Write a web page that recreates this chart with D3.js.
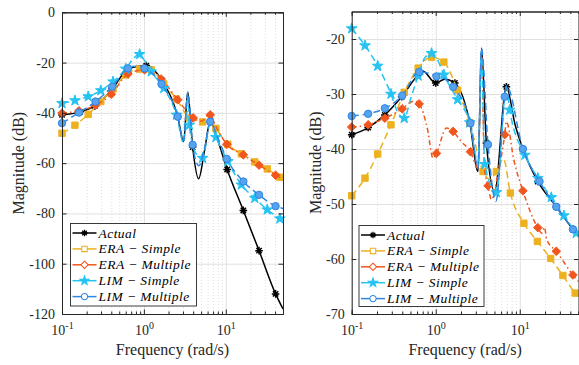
<!DOCTYPE html>
<html>
<head>
<meta charset="utf-8">
<script src="https://cdn.jsdelivr.net/npm/d3@7"></script>
<style>
  body { margin: 0; background: #fff; }
  svg { display: block; font-family: "Liberation Serif", "Times New Roman", serif; }
  svg text { font-family: "Liberation Serif", "Times New Roman", serif !important; }
</style>
</head>
<body>
<svg id="chart" width="579" height="365"></svg>
<script>
// ---- data (frequency in rad/s, magnitude in dB) ----
const seriesNames = ["Actual", "ERA \u2212 Simple", "ERA \u2212 Multiple", "LIM \u2212 Simple", "LIM \u2212 Multiple"];
const xTickValues = [0.1, 1, 10];
const xTickExponents = ["-1", "0", "1"];
const leftYTicks = [0, -20, -40, -60, -80, -100, -120];
const rightYTicks = [-20, -30, -40, -50, -60, -70];

// left panel
const lActF  = [0.1, 0.166, 0.252, 0.40, 0.64, 0.81, 1.07, 1.64, 2.59, 3.06, 3.43, 3.94, 4.66, 5.5, 6.46, 7.9, 10.4, 16.4, 25.5, 40.6, 50];
const lActDb = [-40.8, -39.6, -37.2, -31.1, -22.5, -21.6, -21.2, -26.9, -41.5, -51.4, -31.8, -53.6, -66.2, -55, -43.5, -50.5, -62.5, -78.8, -94.8, -112, -118];
const lActMk = [0, 1, 2, 3, 4, 6, 7, 8, 11, 14, 16, 17, 18, 19];

const lEraSF  = [0.1, 0.144, 0.209, 0.298, 0.42, 0.6, 0.887, 1.23, 1.75, 2.5, 3.59, 5.21, 6.6, 7.58, 10.6, 15.5, 22.6, 32.1, 45.8, 50];
const lEraSDb = [-48.1, -44.9, -40.6, -35.5, -30.5, -24.9, -22.6, -22.9, -28.5, -34.5, -42, -43.6, -43.8, -46.2, -52.5, -56.3, -59.5, -62.3, -65.6, -66.4];
const lEraSMk = [0, 1, 2, 3, 4, 5, 6, 7, 8, 9, 10, 11, 13, 14, 15, 16, 17, 18];

const lEraMF  = [0.1, 0.161, 0.257, 0.40, 0.64, 1.02, 1.62, 2.59, 4.0, 5.0, 6.46, 7.6, 10.3, 16.4, 25.5, 40.6, 50];
const lEraMDb = [-40.1, -39.2, -37, -32.6, -24.5, -22.9, -26.5, -34.8, -42, -43.3, -40.8, -45.5, -52.5, -56.7, -60.8, -64.8, -66.5];
const lEraMMk = [0, 1, 2, 3, 4, 5, 6, 7, 8, 10, 12, 13, 14, 15];

const lLimSF  = [0.1, 0.144, 0.209, 0.298, 0.42, 0.6, 0.75, 0.887, 1.0, 1.23, 1.75, 2.5, 3.06, 3.43, 3.59, 4.3, 5.21, 6.46, 7.58, 10.6, 15.5, 22.6, 32.1, 45.8, 50];
const lLimSDb = [-36.2, -35.1, -33.5, -31.1, -27.6, -22.5, -18.3, -16.7, -18.8, -23.6, -30.2, -40.8, -52, -33, -44.8, -56, -58, -44.5, -49.7, -59.3, -68.6, -73.9, -78.5, -82.1, -83];
const lLimSMk = [0, 1, 2, 3, 4, 5, 7, 9, 10, 11, 14, 16, 18, 19, 20, 21, 22, 23];

const lLimMF  = [0.1, 0.161, 0.257, 0.41, 0.64, 0.8, 1.02, 1.64, 2.59, 3.06, 3.43, 3.94, 4.7, 5.6, 6.46, 7.9, 10.3, 16.4, 25.5, 40.6, 50];
const lLimMDb = [-44.1, -39.9, -35.5, -29.6, -22.3, -21.5, -22.3, -28.5, -41.5, -51, -31.8, -52.7, -61, -53, -43.5, -49.5, -58.3, -67.3, -72.6, -77.1, -78];
const lLimMMk = [0, 1, 2, 3, 4, 6, 7, 8, 11, 14, 16, 17, 18, 19];

// right panel
const rActF  = [0.1, 0.157, 0.248, 0.393, 0.62, 0.70, 1.0, 1.28, 1.69, 2.54, 3.19, 3.5, 4.01, 5.03, 6.93, 8.8, 10.9, 16.4, 27.2, 42.9, 50];
const rActDb = [-37.4, -36.1, -33.8, -30.5, -26.5, -25.8, -28.0, -27.3, -28.0, -35.2, -44.1, -21.7, -38.9, -47.7, -28.7, -35.6, -40.0, -45.9, -50.5, -54.6, -55.9];
const rActMk = [0, 1, 2, 3, 4, 6, 8, 9, 12, 14, 16, 17, 18, 19];

const rEraSF  = [0.1, 0.144, 0.204, 0.293, 0.422, 0.618, 0.892, 1.25, 1.82, 2.54, 3.66, 4.4, 5.27, 6.4, 7.73, 11.2, 16.2, 23.3, 32.6, 45.7, 50];
const rEraSDb = [-48.5, -45.3, -40.9, -35.6, -29.7, -25.3, -23.3, -24.2, -29.3, -35.2, -44.1, -45.5, -44.1, -41.8, -48.0, -53.5, -56.8, -59.9, -63.0, -66.2, -66.8];
const rEraSMk = [0, 1, 2, 3, 4, 5, 6, 7, 8, 9, 10, 12, 14, 15, 16, 17, 18, 19];

const rEraMF  = [0.1, 0.157, 0.248, 0.399, 0.55, 0.635, 0.8, 0.93, 1.02, 1.34, 1.61, 2.0, 2.59, 3.19, 3.5, 3.8, 4.19, 4.6, 5.6, 6.62, 6.93, 8.5, 10.9, 16.4, 18.3, 19.6, 21, 27.2, 42.9, 50];
const rEraMDb = [-36.0, -35.6, -34.4, -32.7, -31.3, -31.8, -36.5, -41.7, -40.8, -36.2, -36.8, -38.6, -40.5, -43.5, -22.5, -43.5, -46.7, -49.2, -44, -37.4, -35.0, -42, -47.6, -54.3, -55.3, -54.2, -56.5, -58.6, -62.9, -64.1];
const rEraMMk = [0, 1, 2, 3, 5, 8, 10, 12, 16, 19, 22, 23, 27, 28];

const rLimSF  = [0.1, 0.144, 0.204, 0.293, 0.35, 0.422, 0.5, 0.618, 0.75, 0.892, 1.05, 1.25, 1.82, 2.54, 3.19, 3.5, 3.83, 5.27, 6.93, 7.59, 11.5, 16.4, 23.7, 33.5, 47, 50];
const rLimSDb = [-18.1, -21.2, -24.9, -30.0, -33.2, -34.4, -31, -26.7, -23.3, -22.6, -23.8, -26.5, -31.0, -35.2, -42.5, -22.2, -42.8, -47.9, -28.7, -32.9, -41.1, -45.3, -48.8, -52.1, -55.3, -55.9];
const rLimSMk = [0, 1, 2, 3, 5, 7, 9, 11, 12, 13, 16, 17, 19, 20, 21, 22, 23, 24];

const rLimMF  = [0.1, 0.157, 0.248, 0.399, 0.635, 0.8, 1.02, 1.3, 1.61, 2.59, 3.19, 3.5, 4.19, 5.2, 6.62, 6.93, 10.9, 17.2, 27.2, 42.9, 50];
const rLimMDb = [-34.0, -33.6, -32.6, -30.3, -26.0, -26.2, -26.8, -27.3, -28.7, -35.3, -43.5, -21.7, -39.2, -49.5, -30.5, -28.5, -40.0, -45.9, -50.5, -54.6, -55.8];
const rLimMMk = [0, 1, 2, 3, 4, 6, 8, 9, 12, 14, 16, 17, 18, 19];

// ---- styles ----
const styles = [
  { color: "#000000", fill: "#000000", dash: null, marker: "asterisk" },
  { color: "#EDB120", fill: "#EDB120", dash: "7,4", marker: "square" },
  { color: "#F2561D", fill: "#F2561D", dash: "5,3,1.5,3", marker: "diamond" },
  { color: "#24C3F2", fill: "#24C3F2", dash: "7,4", marker: "star" },
  { color: "#2F86E4", fill: "#55A3EE", dash: "7,4", marker: "circle" }
];
const SERIF = '"Liberation Serif", "Times New Roman", serif';

function markerPath(type) {
  if (type === "asterisk") {
    const r = 3.8, a = r * 0.707;
    return `M${-r},0L${r},0M0,${-r}L0,${r}M${-a},${-a}L${a},${a}M${-a},${a}L${a},${-a}`;
  }
  if (type === "square") return "M-3.2,-3.2L3.2,-3.2L3.2,3.2L-3.2,3.2Z";
  if (type === "diamond") return "M0,-4.3L4.3,0L0,4.3L-4.3,0Z";
  if (type === "star") {
    let p = "";
    for (let i = 0; i < 10; i++) {
      const r = i % 2 === 0 ? 5.6 : 2.2;
      const ang = -Math.PI / 2 + i * Math.PI / 5;
      p += (i === 0 ? "M" : "L") + (r * Math.cos(ang)).toFixed(2) + "," + (r * Math.sin(ang)).toFixed(2);
    }
    return p + "Z";
  }
  // circle
  return "M3.7,0A3.7,3.7 0 1,1 -3.7,0A3.7,3.7 0 1,1 3.7,0Z";
}

const svg = d3.select("#chart");
svg.append("rect").attr("width", 579).attr("height", 365).attr("fill", "#fff");

function drawPanel(cfg) {
  const x = d3.scaleLog().domain([0.1, 50]).range([cfg.x0, cfg.x1]);
  const y = d3.scaleLinear().domain(cfg.yDomain).range([cfg.y1, cfg.y0]);
  const w = cfg.x1 - cfg.x0, h = cfg.y1 - cfg.y0;
  const g = svg.append("g");

  const minor = [];
  [0.1, 1, 10].forEach(d => { for (let k = 2; k <= 9; k++) if (d * k <= 50) minor.push(d * k); });

  // minor x grid (dotted)
  g.append("g").attr("transform", `translate(0,${cfg.y1})`)
    .call(d3.axisBottom(x).tickValues(minor).tickSize(-h).tickFormat(""))
    .call(s => s.select(".domain").remove())
    .call(s => s.selectAll("line").attr("stroke", "#c8c8c8").attr("stroke-width", 0.6).attr("stroke-dasharray", "1,2"));
  // major grids
  g.append("g").attr("transform", `translate(0,${cfg.y1})`)
    .call(d3.axisBottom(x).tickValues(xTickValues).tickSize(-h).tickFormat(""))
    .call(s => s.select(".domain").remove())
    .call(s => s.selectAll("line").attr("stroke", "#e0e0e0").attr("stroke-width", 1));
  g.append("g").attr("transform", `translate(${cfg.x0},0)`)
    .call(d3.axisLeft(y).tickValues(cfg.yTicks).tickSize(-w).tickFormat(""))
    .call(s => s.select(".domain").remove())
    .call(s => s.selectAll("line").attr("stroke", "#e0e0e0").attr("stroke-width", 1));

  // series
  const clipId = "clip" + cfg.id;
  svg.append("clipPath").attr("id", clipId).append("rect")
    .attr("x", cfg.x0).attr("y", cfg.y0).attr("width", w).attr("height", h);
  const line = d3.line().x(d => x(d[0])).y(d => y(d[1])).curve(d3.curveMonotoneX);
  cfg.series.forEach((s, i) => {
    const st = styles[i];
    const pts = s.f.map((f, k) => [f, s.m[k]]);
    g.append("path").attr("d", line(pts)).attr("clip-path", `url(#${clipId})`)
      .attr("fill", "none").attr("stroke", st.color).attr("stroke-width", 1.5)
      .attr("stroke-dasharray", st.dash);
    g.selectAll(null).data(s.mk.map(k => pts[k])).enter().append("path")
      .attr("d", markerPath(st.marker))
      .attr("transform", d => `translate(${x(d[0])},${y(d[1])})`)
      .attr("fill", st.marker === "asterisk" ? "none" : st.fill)
      .attr("stroke", st.color).attr("stroke-width", st.marker === "asterisk" ? 1.5 : 1);
  });

  // axes box with inward ticks
  const axisColor = "#262626";
  const styleAxis = s => {
    s.attr("font-family", SERIF);
    s.select(".domain").attr("stroke", axisColor);
    s.selectAll(".tick line").attr("stroke", axisColor);
  };
  g.append("g").attr("transform", `translate(0,${cfg.y1})`)
    .call(d3.axisBottom(x).tickValues(minor).tickSize(-2.5).tickFormat("")).call(styleAxis);
  const bottom = g.append("g").attr("transform", `translate(0,${cfg.y1})`)
    .call(d3.axisBottom(x).tickValues(xTickValues).tickSizeInner(-4.5).tickSizeOuter(0).tickPadding(11))
    .call(styleAxis);
  bottom.selectAll(".tick text").each(function(d, i) {
    const t = d3.select(this).text("").attr("font-size", 14).attr("fill", "#262626")
      .attr("text-anchor", "middle").attr("dy", "0.71em");
    t.append("tspan").text("10");
    t.append("tspan").text(xTickExponents[i]).attr("font-size", 10).attr("dy", "-0.55em");
  });
  g.append("g").attr("transform", `translate(0,${cfg.y0})`)
    .call(d3.axisTop(x).tickValues(minor).tickSize(-2.5).tickFormat("")).call(styleAxis);
  g.append("g").attr("transform", `translate(0,${cfg.y0})`)
    .call(d3.axisTop(x).tickValues(xTickValues).tickSizeInner(-4.5).tickSizeOuter(0).tickFormat(""))
    .call(styleAxis);
  g.append("g").attr("transform", `translate(${cfg.x0},0)`)
    .call(d3.axisLeft(y).tickValues(cfg.yTicks).tickSizeInner(-4.5).tickSizeOuter(0).tickPadding(7).tickFormat(d => String(d)))
    .call(styleAxis)
    .call(s => s.selectAll(".tick text").attr("font-size", 14).attr("fill", "#262626"));
  g.append("g").attr("transform", `translate(${cfg.x1},0)`)
    .call(d3.axisRight(y).tickValues(cfg.yTicks).tickSizeInner(-4.5).tickSizeOuter(0).tickFormat(""))
    .call(styleAxis);

  // labels
  g.append("text").attr("x", (cfg.x0 + cfg.x1) / 2).attr("y", 355).attr("text-anchor", "middle")
    .attr("font-size", 16).attr("fill", "#262626").text("Frequency (rad/s)");
  g.append("text").attr("transform", `translate(${cfg.yLabelX},${(cfg.y0 + cfg.y1) / 2}) rotate(-90)`)
    .attr("text-anchor", "middle").attr("font-size", 16).attr("fill", "#262626").text("Magnitude (dB)");

  // legend
  const L = cfg.legend;
  const lg = g.append("g");
  lg.append("rect").attr("x", L.x).attr("y", L.y).attr("width", L.w).attr("height", L.h)
    .attr("fill", "#fff").attr("stroke", axisColor).attr("stroke-width", 0.9);
  seriesNames.forEach((name, i) => {
    const st = styles[i];
    const cy = L.y + 9.5 + i * 15.9;
    lg.append("line").attr("x1", L.x + 2).attr("x2", L.x + 26).attr("y1", cy).attr("y2", cy)
      .attr("stroke", st.color).attr("stroke-width", 1.5);
    lg.append("path").attr("d", markerPath(st.marker)).attr("transform", `translate(${L.x + 14},${cy}) scale(0.85)`)
      .attr("fill", st.marker === "star" ? st.fill : (st.marker === "asterisk" ? "none" : "#fff"))
      .attr("stroke", st.color).attr("stroke-width", st.marker === "asterisk" ? 1.5 : 1.2);
    lg.append("text").attr("x", L.x + 28).attr("y", cy + 4.5)
      .attr("font-size", 13.5).attr("font-style", "italic").attr("letter-spacing", 0.45)
      .attr("fill", "#000").text(name);
  });
}

drawPanel({
  id: "L", x0: 62, x1: 283, y0: 12.3, y1: 314, yDomain: [-120, 0], yTicks: leftYTicks, yLabelX: 24,
  legend: { x: 70.5, y: 223.5, w: 126, h: 82.5 },
  series: [
    { f: lActF, m: lActDb, mk: lActMk },
    { f: lEraSF, m: lEraSDb, mk: lEraSMk },
    { f: lEraMF, m: lEraMDb, mk: lEraMMk },
    { f: lLimSF, m: lLimSDb, mk: lLimSMk },
    { f: lLimMF, m: lLimMDb, mk: lLimMMk }
  ]
});

drawPanel({
  id: "R", x0: 351.7, x1: 578.5, y0: 11.5, y1: 314, yDomain: [-70, -15], yTicks: rightYTicks, yLabelX: 321,
  legend: { x: 359, y: 225.5, w: 125, h: 81 },
  series: [
    { f: rActF, m: rActDb, mk: rActMk },
    { f: rEraSF, m: rEraSDb, mk: rEraSMk },
    { f: rEraMF, m: rEraMDb, mk: rEraMMk },
    { f: rLimSF, m: rLimSDb, mk: rLimSMk },
    { f: rLimMF, m: rLimMDb, mk: rLimMMk }
  ]
});
</script>
</body>
</html>
